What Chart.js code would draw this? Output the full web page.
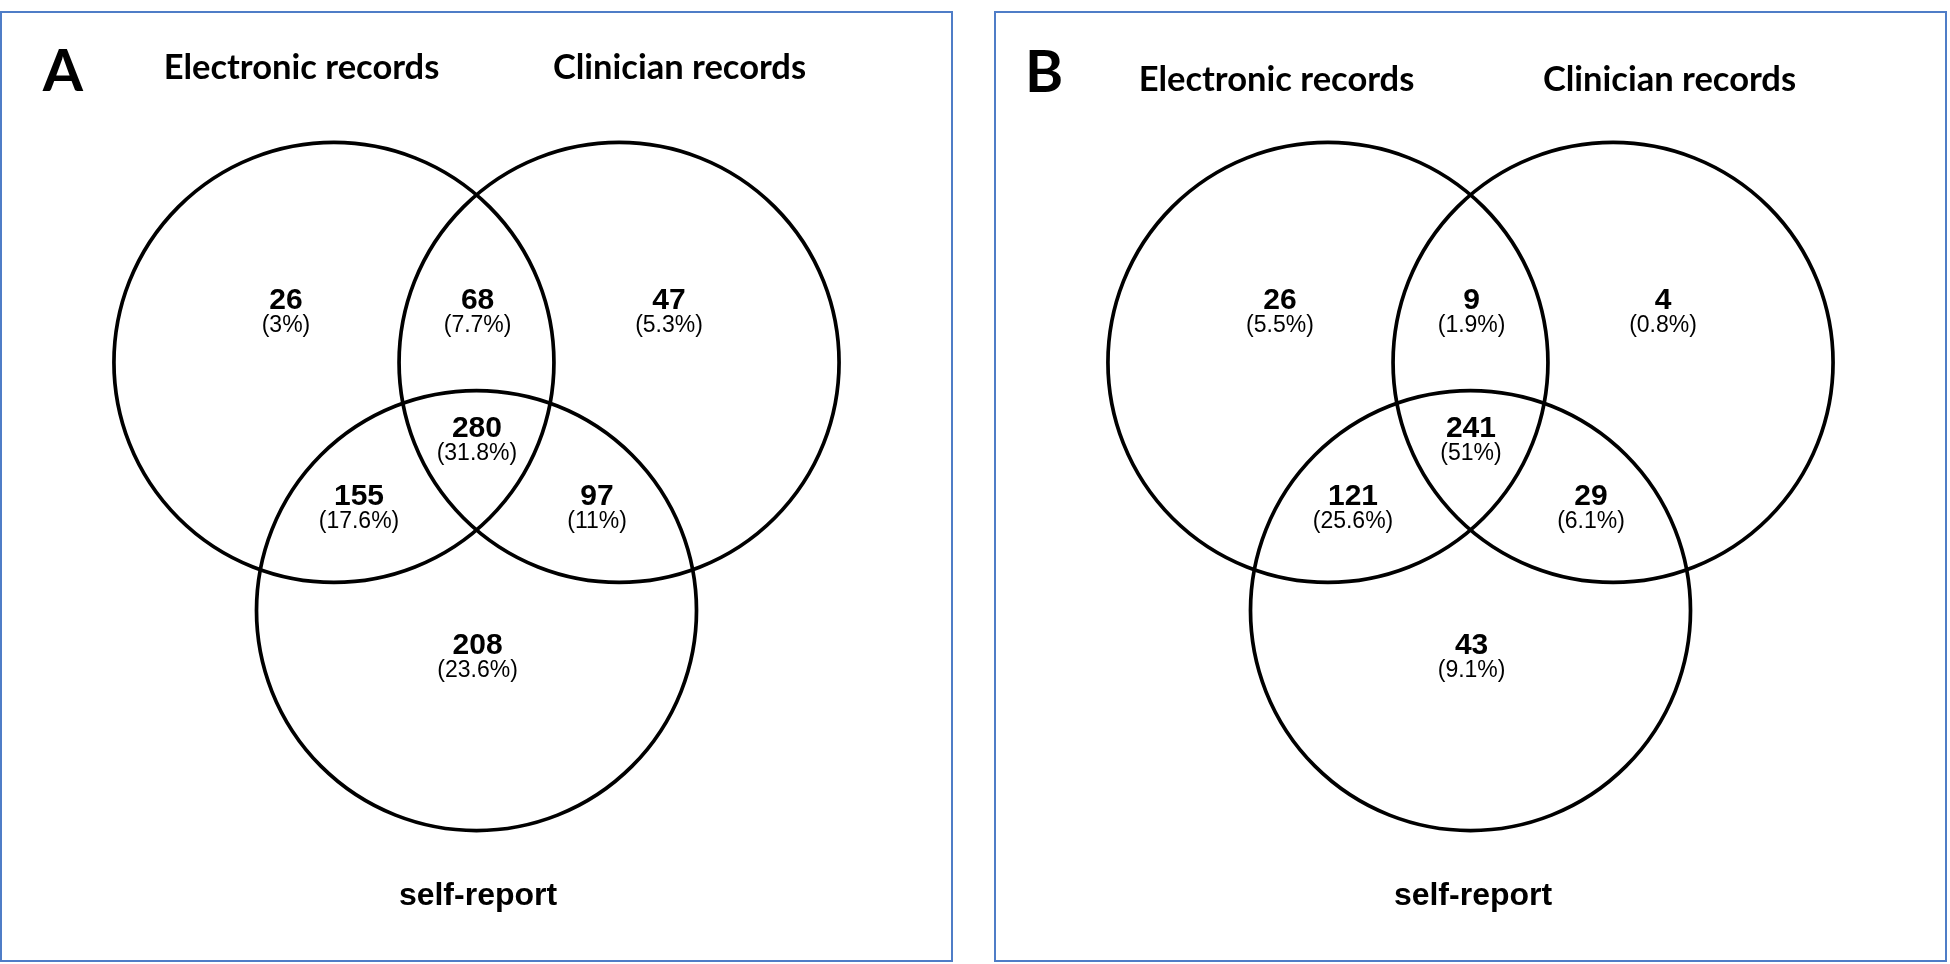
<!DOCTYPE html>
<html>
<head>
<meta charset="utf-8">
<script src="https://cdn.jsdelivr.net/npm/chart.js@4/dist/chart.umd.min.js"></script>
<style>
  html, body { margin: 0; padding: 0; background: #fff; }
  body { width: 1950px; height: 964px; position: relative; overflow: hidden; }
  .panel { position: absolute; top: 11px; width: 949px; height: 947px; border: 2px solid #4f7dc7; }
  .panel canvas { position: absolute; left: 0; top: 0; }
  .txt { position: absolute; white-space: nowrap; line-height: 1; transform: translate(-50%, -50%); color: #000; }
  .letter { font-family: Lato, "Open Sans", sans-serif; font-weight: 700; font-size: 58px; }
  .setTitle { font-family: Lato, "Open Sans", sans-serif; font-weight: 700; font-size: 34.5px; }
  .setBottom { font-family: "Liberation Sans", Arial, sans-serif; font-weight: 700; font-size: 32px; }
  .count { font-family: "Liberation Sans", Arial, sans-serif; font-weight: 700; font-size: 30px; }
  .pct { font-family: "Liberation Sans", Arial, sans-serif; font-weight: 400; font-size: 23px; }
</style>
</head>
<body>
<div class="panel" id="panelA" style="left:0px;"><canvas id="chartA" width="949" height="947"></canvas></div>
<div class="panel" id="panelB" style="left:994px;"><canvas id="chartB" width="949" height="947"></canvas></div>
<script>
// ---------------- DATA ----------------
const panelLetters = ['A', 'B'];
const setNames = ['Electronic records', 'Clinician records', 'self-report'];
const regions = ['E only', 'E & C', 'C only', 'E & C & S', 'E & S', 'C & S', 'S only'];
const countsA = [26, 68, 47, 280, 155, 97, 208];
const percentsA = ['3%', '7.7%', '5.3%', '31.8%', '17.6%', '11%', '23.6%'];
const countsB = [26, 9, 4, 241, 121, 29, 43];
const percentsB = ['5.5%', '1.9%', '0.8%', '51%', '25.6%', '6.1%', '9.1%'];

// ---------------- LAYOUT (diagram units, circle radius = 1) ----------------
const circleCentersX = [-0.648, 0.648, 0];
const circleCentersY = [0.564, 0.564, -0.564];
const circleRadius = 1;
const regionAnchorX = [-0.866, 0.005, 0.875, 0.002, -0.534, 0.548, 0.005];
const regionAnchorY = [0.852, 0.852, 0.852, 0.270, -0.039, -0.039, -0.716];
const pxPerUnit = 220;

const panelTexts = {
  A: { letter: [61, 56], e: [299.5, 53], c: [677.5, 53], s: [476, 881] },
  B: { letter: [48, 57], e: [280.5, 65], c: [673.5, 65], s: [477, 881] }
};

function makePanel(canvasId, panelId, letter, counts, percents) {
  const canvas = document.getElementById(canvasId);
  const panel = document.getElementById(panelId);
  const W = canvas.width, H = canvas.height;
  const hx = W / 2 / pxPerUnit, hy = H / 2 / pxPerUnit;
  const pts = circleCentersX.map((x, i) => ({ x: x, y: circleCentersY[i] }));
  const radiusPx = (ctx) => {
    const s = ctx.chart.scales.x;
    if (!s) return 0;
    return Math.abs(s.getPixelForValue(circleRadius) - s.getPixelForValue(0));
  };

  const chart = new Chart(canvas, {
    type: 'scatter',
    data: {
      datasets: [{
        label: setNames.join(' / '),
        data: pts,
        pointRadius: radiusPx,
        pointHoverRadius: radiusPx,
        pointBackgroundColor: 'rgba(0,0,0,0)',
        pointBorderColor: '#000',
        pointBorderWidth: 3.7,
        pointHoverBorderWidth: 3.7,
        showLine: false,
        clip: false
      }]
    },
    options: {
      responsive: false,
      animation: false,
      devicePixelRatio: 1,
      events: [],
      layout: { padding: 0 },
      plugins: { legend: { display: false }, tooltip: { enabled: false } },
      scales: {
        x: { type: 'linear', min: -hx, max: hx, display: false },
        y: { type: 'linear', min: -hy, max: hy, display: false }
      }
    }
  });

  // region labels positioned through the chart scales
  const xs = chart.scales.x, ys = chart.scales.y;
  counts.forEach((c, i) => {
    const px = xs.getPixelForValue(regionAnchorX[i]);
    const py = ys.getPixelForValue(regionAnchorY[i]);
    const d1 = document.createElement('div');
    d1.className = 'txt count';
    d1.style.left = px + 'px';
    d1.style.top = py + 'px';
    d1.textContent = String(c);
    panel.appendChild(d1);
    const d2 = document.createElement('div');
    d2.className = 'txt pct';
    d2.style.left = px + 'px';
    d2.style.top = (py + 25) + 'px';
    d2.textContent = '(' + percents[i] + ')';
    panel.appendChild(d2);
  });

  const t = panelTexts[letter];
  const add = (cls, txt, pos) => {
    const d = document.createElement('div');
    d.className = 'txt ' + cls;
    d.style.left = pos[0] + 'px';
    d.style.top = pos[1] + 'px';
    d.textContent = txt;
    panel.appendChild(d);
  };
  add('letter', letter, t.letter);
  add('setTitle', setNames[0], t.e);
  add('setTitle', setNames[1], t.c);
  add('setBottom', setNames[2], t.s);
}

makePanel('chartA', 'panelA', panelLetters[0], countsA, percentsA);
makePanel('chartB', 'panelB', panelLetters[1], countsB, percentsB);
</script>
</body>
</html>
